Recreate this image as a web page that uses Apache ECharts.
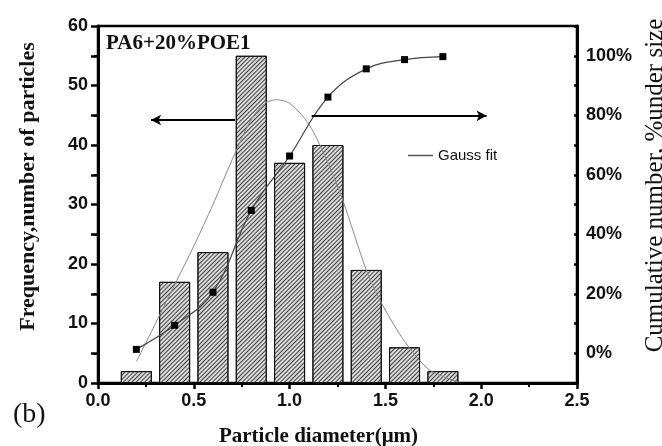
<!DOCTYPE html>
<html>
<head>
<meta charset="utf-8">
<script src="https://cdn.jsdelivr.net/npm/echarts@6/dist/echarts.min.js"></script>
<style>html,body{margin:0;padding:0;background:#fff}#c{width:662px;height:446px}</style>
</head>
<body>
<div id="c"></div>
<script>
// ---- data ----
const diameters = [0.2, 0.4, 0.6, 0.8, 1.0, 1.2, 1.4, 1.6, 1.8];
const frequency = [2, 17, 22, 55, 37, 40, 19, 6, 2];
const cumulative = [1.3, 9.4, 20.5, 48, 66.3, 86.1, 95.6, 98.7, 99.7];
const gaussX = [0.2, 0.3, 0.4, 0.5, 0.6, 0.7, 0.8, 0.87, 0.93, 1.0, 1.1, 1.2, 1.28, 1.4, 1.47, 1.6, 1.73, 1.88];
const gaussY = [3.6, 10, 16.5, 23, 30, 37.5, 44.3, 47, 47.6, 47, 43.5, 37, 30.5, 19, 14, 7, 2.2, 0.2];
const xTicks = [0, 0.5, 1.0, 1.5, 2.0, 2.5];
const rightTicks = [0, 20, 40, 60, 80, 100];
// annotation arrows (data coordinates: [x, frequency])
const leftArrow = [[0.715, 44.2], [0.277, 44.2]];
const rightArrow = [[1.115, 44.9], [2.028, 44.9]];

const serif = '"Liberation Serif","Times New Roman",serif';
const sans = '"Liberation Sans",Arial,sans-serif';

const chart = echarts.init(document.getElementById('c'), null, {renderer: 'canvas'});
chart.setOption({
  animation: false,
  backgroundColor: '#fff',
  title: [
    {text: 'PA6+20%POE1', left: 101, top: 28, textStyle: {fontFamily: serif, fontWeight: 'bold', fontSize: 21, color: '#111'}},
    {text: '(b)', left: 8, top: 396, textStyle: {fontFamily: serif, fontWeight: 'normal', fontSize: 28, color: '#111'}}
  ],
  legend: {
    data: ['Gauss fit'], left: 403, top: 143, itemWidth: 25, itemHeight: 1.5, itemGap: 4,
    icon: 'rect', itemStyle: {color: '#555'},
    textStyle: {fontFamily: sans, fontSize: 15, color: '#111'}
  },
  grid: {left: 98, right: 85, top: 26, bottom: 63, outerBoundsMode: 'none', containLabel: false,
    show: true, borderColor: '#000', borderWidth: 2.5, backgroundColor: 'transparent'},
  xAxis: {
    type: 'value', min: 0, max: 2.5, interval: 0.5,
    name: 'Particle diameter(μm)', nameLocation: 'middle', nameGap: 43,
    nameTextStyle: {fontFamily: serif, fontWeight: 'bold', fontSize: 21, color: '#111', padding: [0, 38, 0, 0]},
    axisLine: {show: true, onZero: false, lineStyle: {color: '#000', width: 3}},
    axisTick: {show: true, length: 6, lineStyle: {color: '#000', width: 2.5}},
    minorTick: {show: true, splitNumber: 2, length: 4, lineStyle: {color: '#000', width: 2}},
    axisLabel: {margin: 9, fontFamily: sans, fontWeight: 'bold', fontSize: 18, color: '#111',
      formatter: v => xTicks.indexOf(v) >= 0 ? v.toFixed(1) : ''},
    splitLine: {show: false}
  },
  yAxis: [
    {
      type: 'value', min: 0, max: 60, interval: 10, position: 'left',
      name: 'Frequency,number of particles', nameLocation: 'middle', nameGap: 59, nameRotate: 90,
      nameTextStyle: {fontFamily: serif, fontWeight: 'bold', fontSize: 22, color: '#111', padding: [0, 0, 0, 36]},
      axisLine: {show: true, onZero: false, lineStyle: {color: '#000', width: 3}},
      axisTick: {show: true, length: 7, lineStyle: {color: '#000', width: 2.5}},
      minorTick: {show: true, splitNumber: 2, length: 4, lineStyle: {color: '#000', width: 2}},
      axisLabel: {margin: 10, fontFamily: sans, fontWeight: 'bold', fontSize: 18, color: '#111'},
      splitLine: {show: false}
    },
    {
      type: 'value', min: -10, max: 110, interval: 10, position: 'right',
      name: 'Cumulative number, %under size', nameLocation: 'middle', nameGap: 65, nameRotate: 90,
      nameTextStyle: {fontFamily: serif, fontWeight: 'normal', fontSize: 25, color: '#111', padding: [0, 0, 0, 38]},
      axisLine: {show: true, onZero: false, lineStyle: {color: '#000', width: 3}},
      axisTick: {show: true, inside: true, length: 3, lineStyle: {color: '#000', width: 2.5}},
      axisLabel: {margin: 9, fontFamily: sans, fontWeight: 'bold', fontSize: 18, color: '#111',
        formatter: v => rightTicks.indexOf(v) >= 0 ? v + '%' : ''},
      splitLine: {show: false}
    },
    {
      type: 'value', min: -10, max: 110, interval: 10, position: 'right',
      axisLine: {show: false},
      axisTick: {show: true, inside: true, length: 7, customValues: rightTicks, lineStyle: {color: '#000', width: 2.5}},
      axisLabel: {show: false},
      splitLine: {show: false}
    }
  ],
  series: [
    {
      name: 'Frequency', type: 'bar', xAxisIndex: 0, yAxisIndex: 0, barWidth: 31,
      data: diameters.map((x, i) => [x, frequency[i]]),
      itemStyle: {
        color: '#dcdcdc', borderColor: '#111', borderWidth: 1,
        decal: {symbol: 'rect', symbolSize: 1, color: 'rgba(45,45,45,0.9)', dashArrayX: [1, 0], dashArrayY: [1, 2], rotation: -Math.PI / 4}
      },
      markLine: {
        silent: true, symbol: ['none', 'arrow'], symbolSize: [8, 10], label: {show: false},
        lineStyle: {color: '#000', width: 2, type: 'solid'},
        data: [
          [{coord: leftArrow[0]}, {coord: leftArrow[1]}],
          [{coord: rightArrow[0]}, {coord: rightArrow[1]}]
        ]
      }
    },
    {
      name: 'Gauss fit', type: 'line', yAxisIndex: 0, smooth: 0.3, symbol: 'none',
      data: gaussX.map((x, i) => [x, gaussY[i]]),
      lineStyle: {color: '#8a8a8a', width: 1}, itemStyle: {color: '#555'}
    },
    {
      name: 'Cumulative', type: 'line', yAxisIndex: 1, smooth: 0.4, symbol: 'rect', symbolSize: 7,
      data: diameters.map((x, i) => [x, cumulative[i]]),
      lineStyle: {color: '#444', width: 1.2}, itemStyle: {color: '#000'}
    }
  ]
});
</script>
</body>
</html>
